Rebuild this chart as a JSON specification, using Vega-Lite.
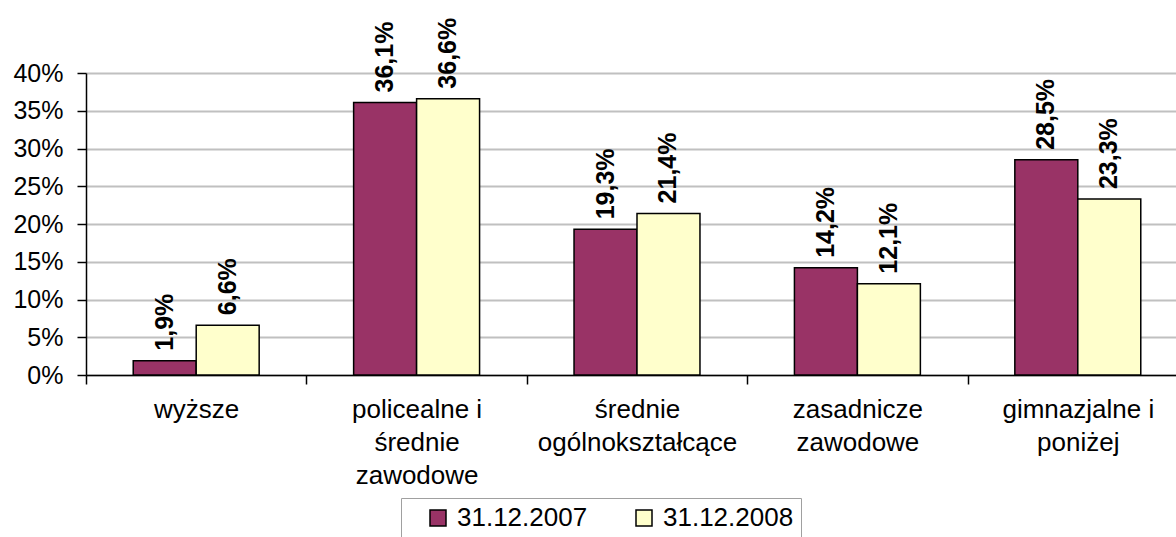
{
  "$schema": "https://vega.github.io/schema/vega-lite/v6.json",
  "autosize": {"type": "none"},
  "width": 1090,
  "height": 302,
  "padding": {"left": 86, "top": 73, "right": 0, "bottom": 162},
  "config": {
    "locale": {"number": {"decimal": ",", "thousands": " ", "grouping": [3], "currency": ["", ""]}},
    "view": {"stroke": null},
    "font": "Liberation Sans",
    "background": "white"
  },
  "data": {
    "values": [
      {"cat": "wyższe", "date": "31.12.2007", "v": 0.019},
      {"cat": "wyższe", "date": "31.12.2008", "v": 0.066},
      {"cat": "policealne i|średnie|zawodowe", "date": "31.12.2007", "v": 0.361},
      {"cat": "policealne i|średnie|zawodowe", "date": "31.12.2008", "v": 0.366},
      {"cat": "średnie|ogólnokształcące", "date": "31.12.2007", "v": 0.193},
      {"cat": "średnie|ogólnokształcące", "date": "31.12.2008", "v": 0.214},
      {"cat": "zasadnicze|zawodowe", "date": "31.12.2007", "v": 0.142},
      {"cat": "zasadnicze|zawodowe", "date": "31.12.2008", "v": 0.121},
      {"cat": "gimnazjalne i|poniżej", "date": "31.12.2007", "v": 0.285},
      {"cat": "gimnazjalne i|poniżej", "date": "31.12.2008", "v": 0.233}
    ]
  },
  "encoding": {
    "x": {
      "field": "cat", "type": "nominal", "sort": null,
      "scale": {"range": [0, 1102], "paddingInner": 0, "paddingOuter": 0},
      "axis": {
        "title": null, "labelAngle": 0, "tickBand": "extent", "tickSize": 9,
        "tickColor": "black", "domainColor": "black", "domainWidth": 1.5, "tickWidth": 1.5,
        "labelFontSize": 26, "labelColor": "black", "labelPadding": 12,
        "labelLineHeight": 33, "labelLimit": 400, "labelBaseline": "top",
        "labelExpr": "split(datum.label, '|')"
      }
    },
    "xOffset": {"field": "date", "type": "nominal", "scale": {"paddingInner": 0, "paddingOuter": 0.75}},
    "y": {
      "field": "v", "type": "quantitative",
      "scale": {"domain": [0, 0.4]},
      "axis": {
        "title": null, "format": ".0%", "values": [0, 0.05, 0.1, 0.15, 0.2, 0.25, 0.3, 0.35, 0.4],
        "gridColor": "#c0c0c0", "gridWidth": 2, "domainColor": "black", "domainWidth": 1.5,
        "tickColor": "black", "tickWidth": 1.5, "tickSize": 9,
        "labelFontSize": 25, "labelColor": "black", "labelPadding": 14
      }
    }
  },
  "layer": [
    {
      "mark": {"type": "bar", "stroke": "black", "strokeWidth": 1.5},
      "encoding": {
        "color": {
          "field": "date", "type": "nominal",
          "scale": {"domain": ["31.12.2007", "31.12.2008"], "range": ["#993366", "#FFFFCC"]},
          "legend": {
            "title": null, "orient": "none", "direction": "horizontal",
            "legendX": 315, "legendY": 425,
            "strokeColor": "#a0a0a0", "fillColor": "white", "padding": 7,
            "symbolType": "square", "symbolSize": 256, "symbolStrokeColor": "black",
            "symbolStrokeWidth": 1.5, "symbolOpacity": 1, "symbolOffset": 17,
            "labelOffset": 6, "labelFontSize": 26, "labelColor": "black",
            "columnPadding": 26, "labelLimit": 300
          }
        }
      }
    },
    {
      "mark": {"type": "text", "angle": 270, "align": "left", "baseline": "middle", "dx": 10, "fontSize": 25, "fontWeight": "bold", "color": "black"},
      "encoding": {"text": {"field": "v", "type": "quantitative", "format": ".1%"}}
    }
  ]
}
